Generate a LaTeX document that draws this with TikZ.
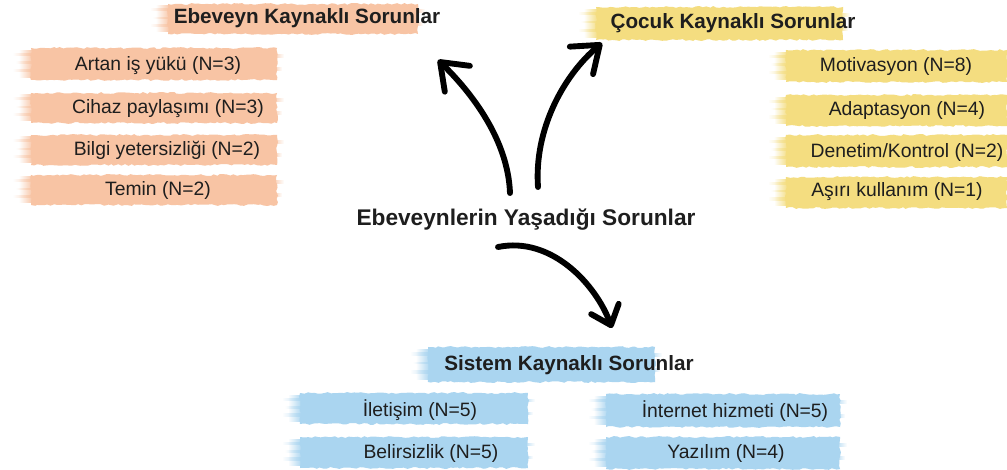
\documentclass[tikz,border=0pt]{standalone}
\usepackage{fontspec}
\setmainfont{Liberation Sans}
\usetikzlibrary{arrows.meta,decorations.pathmorphing,fadings}
\definecolor{peach}{RGB}{248,196,164}
\definecolor{sand}{RGB}{244,221,128}
\definecolor{sky}{RGB}{170,213,240}
\definecolor{ink}{RGB}{30,30,30}
\newcommand\brushstroke[5]{%
  \fill[#1,decorate,decoration={random steps,segment length=2.5pt,amplitude=0.7pt}] (#2+18,#3) rectangle (#4,#5);
  \fill[#1,path fading=west] (#2+6,{#3+0.05*(#5-#3)}) rectangle (#2+20,{#3+0.95*(#5-#3)});
  \fill[#1,path fading=west,opacity=.8] (#2,{#3+0.15*(#5-#3)}) rectangle (#2+20,{#3+0.25*(#5-#3)});
  \fill[#1,path fading=west,opacity=.8] (#2+3,{#3+0.42*(#5-#3)}) rectangle (#2+20,{#3+0.5*(#5-#3)});
  \fill[#1,path fading=west,opacity=.8] (#2,{#3+0.66*(#5-#3)}) rectangle (#2+20,{#3+0.76*(#5-#3)});
  \fill[#1,path fading=east,opacity=.7] (#4-2,{#3+0.18*(#5-#3)}) rectangle (#4+7,{#3+0.3*(#5-#3)});
  \fill[#1,path fading=east,opacity=.7] (#4-2,{#3+0.6*(#5-#3)}) rectangle (#4+5,{#3+0.72*(#5-#3)});
}
\begin{document}
\begin{tikzpicture}[x=0.75pt,y=-0.75pt,
  item/.style={text=ink,font=\fontsize{14.5}{16}\selectfont,inner sep=0pt},
  title/.style={text=ink,font=\bfseries\fontsize{15.5}{18}\selectfont,inner sep=0pt},
  central/.style={text=ink,font=\bfseries\fontsize{17}{20}\selectfont,inner sep=0pt},
  arr/.style={line width=4.4pt,line cap=round,-{Straight Barb[length=18pt,width=27pt,round]}},
  arrsmall/.style={line width=4.4pt,line cap=round,-{Straight Barb[length=13pt,width=22pt,round]}}]
\useasboundingbox (0,0) rectangle (1007,470);
\fill[white] (0,0) rectangle (1007,470);

% brushes
\brushstroke{peach}{150}{4}{418}{34}
\brushstroke{sand}{578}{7}{843}{40}
\brushstroke{sky}{410}{347}{655}{382}
\brushstroke{peach}{13}{48}{277}{80}
\brushstroke{peach}{13}{93}{277}{123}
\brushstroke{peach}{13}{135}{277}{165}
\brushstroke{peach}{13}{175}{277}{205}
\brushstroke{sand}{768}{50}{1007}{82}
\brushstroke{sand}{768}{95}{1007}{126}
\brushstroke{sand}{768}{135}{1007}{167}
\brushstroke{sand}{768}{177}{1007}{208}
\brushstroke{sky}{282}{393}{528}{424}
\brushstroke{sky}{282}{437}{528}{468}
\brushstroke{sky}{588}{394}{840}{427}
\brushstroke{sky}{588}{437}{840}{469}

% titles
\node[title] (ebe) at (307,18) {Ebeveyn Kaynaklı Sorunlar};
\node[title] (coc) at (733,23) {Çocuk Kaynaklı Sorunlar};
\node[title] (sis) at (569,365) {Sistem Kaynaklı Sorunlar};
\node[central] (c) at (526,220) {Ebeveynlerin Yaşadığı Sorunlar};

% items
\node[item] (l1) at (158,66) {Artan iş yükü (N=3)};
\node[item] (l2) at (168,109) {Cihaz paylaşımı (N=3)};
\node[item] (l3) at (167,150) {Bilgi yetersizliği (N=2)};
\node[item] (l4) at (158,190) {Temin (N=2)};
\node[item] (r1) at (896,67) {Motivasyon (N=8)};
\node[item] (r2) at (907,111) {Adaptasyon (N=4)};
\node[item] (r3) at (907,152) {Denetim/Kontrol (N=2)};
\node[item] (r4) at (897,192) {Aşırı kullanım (N=1)};
\node[item] (b1) at (420,410) {İletişim (N=5)};
\node[item] (b2) at (431,453) {Belirsizlik (N=5)};
\node[item] (b3) at (735,411) {İnternet hizmeti (N=5)};
\node[item] (b4) at (726,453) {Yazılım (N=4)};

% arrows
\coordinate (a1s) at (510,193);
\coordinate (a1e) at (438,60);
\coordinate (a2s) at (538,187);
\coordinate (a2e) at (602,43);
\coordinate (a3s) at (498,247);
\coordinate (a3e) at (612,328);
\draw[arr] (a1s) .. controls (508,140) and (472,93) .. (a1e);
\draw[arr] (a2s) .. controls (534,130) and (563,76) .. (a2e);
\draw[arrsmall] (a3s) .. controls (552,236) and (596,285) .. (a3e);
\end{tikzpicture}
\end{document}
